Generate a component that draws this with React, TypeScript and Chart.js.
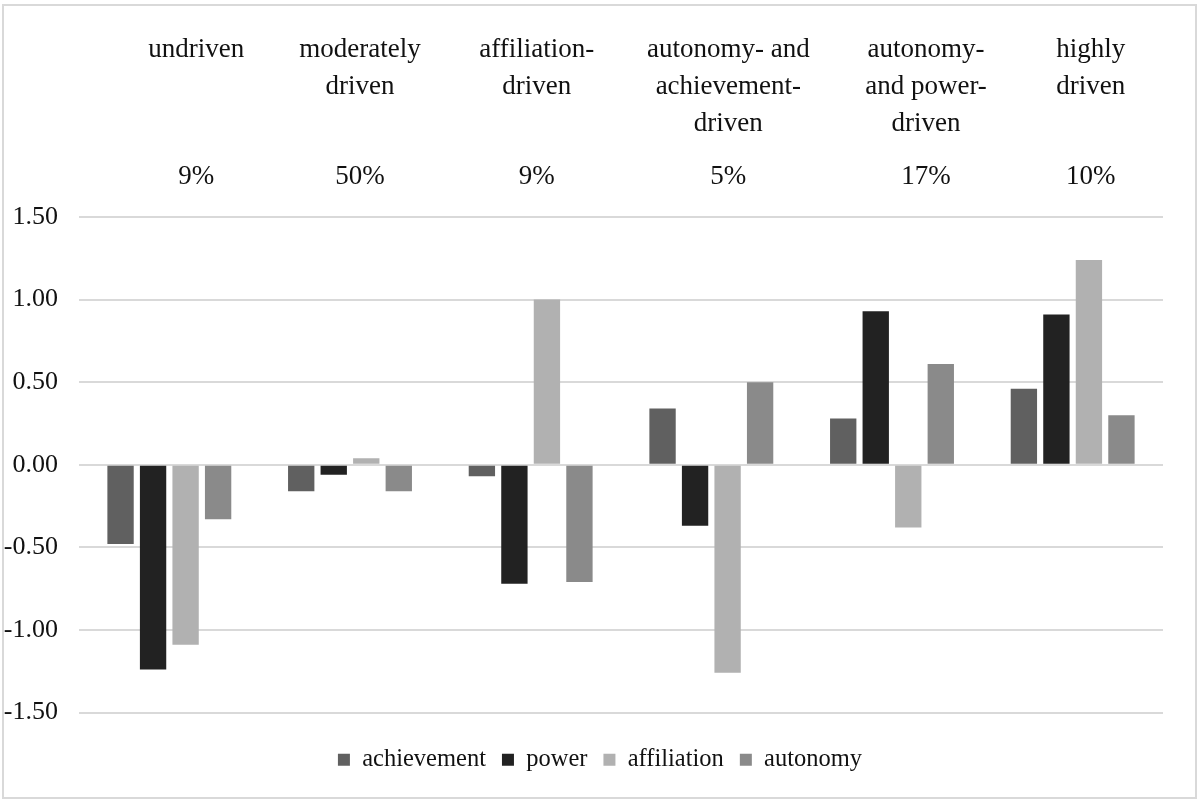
import { useEffect, useRef } from "react"
import { Chart, registerables } from "chart.js"

Chart.register(...registerables)

// categories, header text and share of each profile
const headerLines = [
  ["undriven"],
  ["moderately", "driven"],
  ["affiliation-", "driven"],
  ["autonomy- and", "achievement-", "driven"],
  ["autonomy-", "and power-", "driven"],
  ["highly", "driven"],
]
const shares = ["9%", "50%", "9%", "5%", "17%", "10%"]
const categories = headerLines.map((l) => l.join(" "))

// z-scores per motive
const achievement = [-0.48, -0.16, -0.07, 0.34, 0.28, 0.46]
const power = [-1.24, -0.06, -0.72, -0.37, 0.93, 0.91]
const affiliation = [-1.09, 0.04, 1.0, -1.26, -0.38, 1.24]
const autonomy = [-0.33, -0.16, -0.71, 0.5, 0.61, 0.3]

const serif = "'Liberation Serif', 'Times New Roman', serif"

// header labels are not exactly centred over the groups in the original
const headerShift = [27, 10, 6, 17, 34, 18]

const framePlugin = {
  id: "frame",
  beforeDraw(chart: Chart) {
    const { ctx } = chart
    ctx.save()
    ctx.strokeStyle = "#d9d9d9"
    ctx.lineWidth = 2
    ctx.strokeRect(3, 5, 1193, 793)
    ctx.restore()
  },
}

const headerPlugin = {
  id: "header",
  afterDraw(chart: Chart) {
    const { ctx } = chart
    const x = chart.scales.x
    ctx.save()
    ctx.fillStyle = "#111"
    ctx.font = `27px ${serif}`
    ctx.textAlign = "center"
    ctx.textBaseline = "alphabetic"
    headerLines.forEach((lines, i) => {
      const cx = x.getPixelForValue(i) + headerShift[i]
      lines.forEach((line, j) => {
        ctx.fillText(line, cx, 57 + j * 37)
      })
      ctx.fillText(shares[i], cx, 184)
    })
    ctx.restore()
  },
}

export default function App() {
  const chartRef = useRef<HTMLCanvasElement>(null)
  const chartInstance = useRef<Chart | null>(null)

  useEffect(() => {
    document.body.style.margin = "0"
    if (!chartRef.current) return
    if (chartInstance.current) chartInstance.current.destroy()

    const ctx = chartRef.current.getContext("2d")
    if (!ctx) return

    chartInstance.current = new Chart(ctx, {
      type: "bar",
      data: {
        labels: categories,
        datasets: [
          { label: "achievement", data: achievement, backgroundColor: "#606060" },
          { label: "power", data: power, backgroundColor: "#222222" },
          { label: "affiliation", data: affiliation, backgroundColor: "#b1b1b1" },
          { label: "autonomy", data: autonomy, backgroundColor: "#8a8a8a" },
        ],
      },
      options: {
        animation: false,
        responsive: true,
        maintainAspectRatio: false,
        datasets: {
          bar: {
            barPercentage: 0.81,
            categoryPercentage: 0.72,
          },
        },
        layout: {
          padding: { top: 217, bottom: 20, left: 0, right: 0 },
        },
        scales: {
          x: {
            ticks: { display: false },
            grid: { display: false },
            border: { display: false },
            afterFit: (s) => {
              s.height = 19
            },
          },
          y: {
            min: -1.5,
            max: 1.5,
            ticks: {
              stepSize: 0.5,
              padding: 21,
              color: "#111",
              font: { family: serif, size: 26 },
              callback: (v) => Number(v).toFixed(2),
            },
            grid: { color: "#d9d9d9", lineWidth: 2, drawTicks: false },
            border: { display: false },
            afterFit: (s) => {
              s.width = 79
            },
          },
          right: {
            position: "right",
            ticks: { display: false },
            grid: { display: false },
            border: { display: false },
            afterFit: (s) => {
              s.width = 37
            },
          },
        },
        plugins: {
          legend: {
            position: "bottom",
            labels: {
              boxWidth: 12,
              boxHeight: 12,
              padding: 16,
              color: "#111",
              font: { family: serif, size: 24.5 },
            },
          },
          tooltip: { enabled: false },
        },
      },
      plugins: [framePlugin, headerPlugin],
    })

    return () => {
      if (chartInstance.current) {
        chartInstance.current.destroy()
        chartInstance.current = null
      }
    }
  }, [])

  return (
    <div style={{ width: 1200, height: 802, position: "relative" }}>
      <canvas ref={chartRef} />
    </div>
  )
}
